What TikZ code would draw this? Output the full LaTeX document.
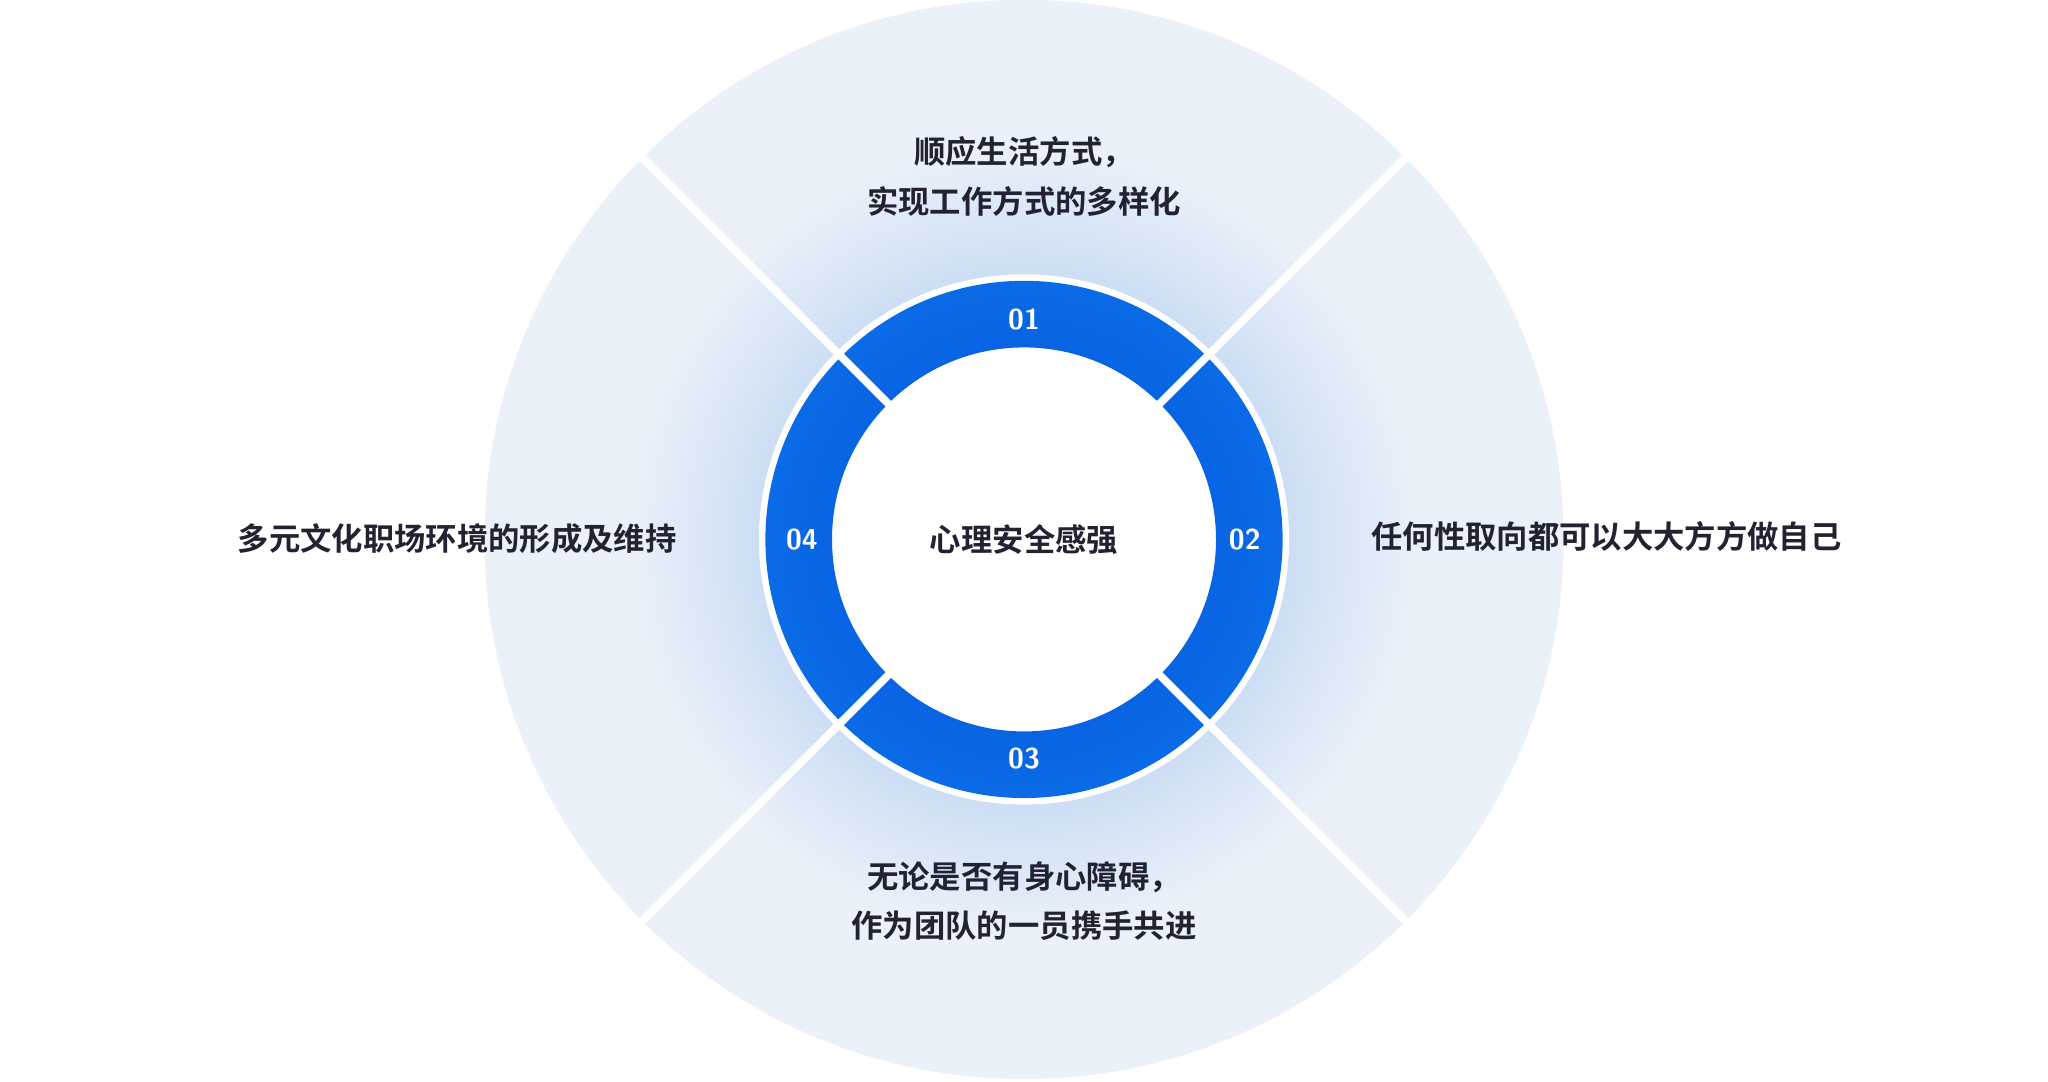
\documentclass[tikz,border=0pt]{standalone}
\usepackage{fontspec}
\newfontfamily\cjk{Noto Sans CJK SC}[BoldFont=* Bold]
\usetikzlibrary{calc}
\definecolor{bgc}{HTML}{EAF1F9}
\definecolor{glow}{HTML}{8FB6EC}
\definecolor{ringb}{HTML}{0B6BE6}
\definecolor{ringd}{HTML}{0050D8}
\definecolor{txt}{HTML}{222233}
\tikzset{lab/.style={font=\cjk\bfseries\fontsize{12}{19}\selectfont, text=txt, align=center},
num/.style={font=\sffamily\bfseries\fontsize{11}{13}\selectfont, text=white},
sep/.style={white, line width=3pt}}
\begin{document}
\begin{tikzpicture}[x=0.5pt,y=-0.5pt]
\useasboundingbox (0,0) rectangle (1568,828);
\coordinate (c) at (784,413);
\fill[bgc] (c) circle (413);
\shade[inner color=glow, outer color=bgc] (c) circle (300);
\fill[bgc, even odd rule] (c) circle (413) circle (300);
\fill[white] (c) circle (203);
\shade[even odd rule, inner color=ringd, outer color=ringb] (c) circle (198) circle (147);
\fill[white] (c) circle (143);
\foreach \a in {45,135,225,315}
  \draw[sep] ($(c)+(\a:140)$) -- ($(c)+(\a:413)$);
\node[lab] (center) at (c) {心理安全感强};
\node[num] (n1) at (784,245) {01};
\node[num] (n2) at (953,413) {02};
\node[num] (n3) at (784,581) {03};
\node[num] (n4) at (614,413) {04};
\node[lab] (t1) at (784,135) {顺应生活方式，\\实现工作方式的多样化};
\node[lab] (t2) at (1230,411) {任何性取向都可以大大方方做自己};
\node[lab] (t3) at (784,690) {无论是否有身心障碍，\\作为团队的一员携手共进};
\node[lab] (t4) at (350,412) {多元文化职场环境的形成及维持};
\end{tikzpicture}
\end{document}
